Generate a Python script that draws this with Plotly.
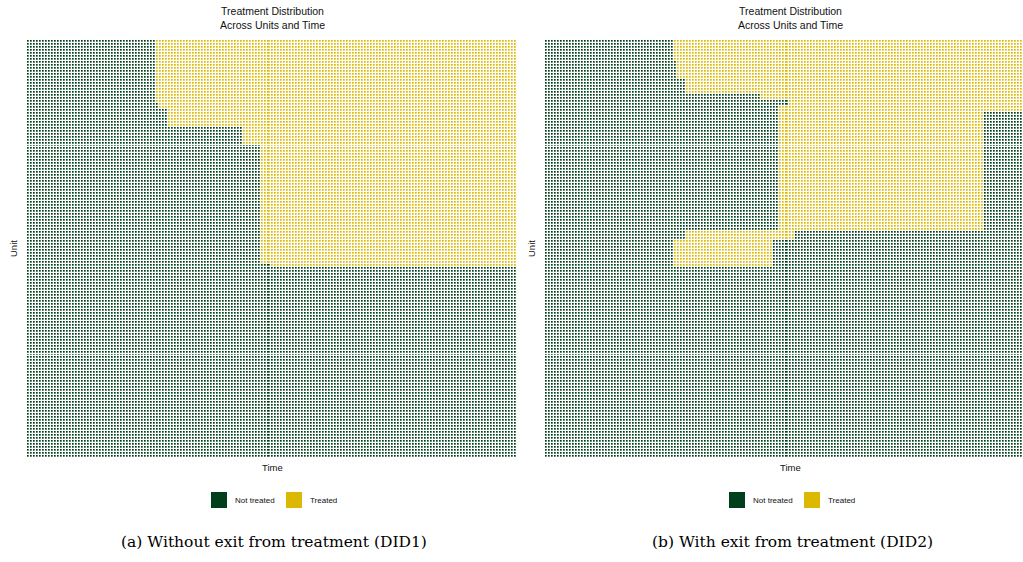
import numpy as np
import plotly.graph_objects as go

# Panel dimensions
N_UNITS = 140
N_PERIODS = 163

# DID1: staggered adoption, no exit (blocks of units, top to bottom)
did1_block_sizes = [21, 2, 6, 6, 40, 1]
did1_start = [43, 44, 47, 72, 78, 81]

# DID2: adoption with exit (end = last treated period, None = stays treated)
did2_block_sizes = [7, 6, 5, 2, 2, 2, 40, 3, 9]
did2_start = [43, 44, 47, 72, 81, 78, 78, 47, 43]
did2_end = [None, None, None, None, None, None, 145, 82, 75]

legend_labels = ["Not treated", "Treated"]
GREEN = "#003F1C"
YELLOW = "#DCB800"


def build_matrix(sizes, starts, ends=None):
    z = np.zeros((N_UNITS, N_PERIODS), dtype=int)
    row = 0
    for i, (n, s) in enumerate(zip(sizes, starts)):
        e = N_PERIODS - 1 if ends is None or ends[i] is None else ends[i]
        z[row:row + n, s:e + 1] = 1
        row += n
    return z


z1 = build_matrix(did1_block_sizes, did1_start)
z2 = build_matrix(did2_block_sizes, did2_start, did2_end)

W, H = 1023, 562
colorscale = [[0, GREEN], [0.5, GREEN], [0.5, YELLOW], [1, YELLOW]]

fig = go.Figure()
for z, xa, ya in [(z1, "x", "y"), (z2, "x2", "y2")]:
    fig.add_trace(go.Heatmap(
        z=z, x=np.arange(N_PERIODS), y=np.arange(N_UNITS),
        colorscale=colorscale, zmin=0, zmax=1, showscale=False,
        xgap=1.3, ygap=1.3, xaxis=xa, yaxis=ya, hoverinfo="skip"))

# pixel geometry of the two panels
ax_left = [27, 545]
panel_w = 490
top_px, bot_px = 40, 458
pitch = panel_w / N_PERIODS


def px(x):
    return x / W


def py(y):
    return 1 - y / H


axis_common = dict(showgrid=False, zeroline=False, showticklabels=False,
                   ticks="", showline=False)
fig.update_layout(
    xaxis=dict(domain=[px(27), px(27 + panel_w)], range=[-0.5, N_PERIODS - 0.5], **axis_common),
    yaxis=dict(domain=[py(bot_px), py(top_px)], range=[N_UNITS - 0.5, -0.5], **axis_common),
    xaxis2=dict(domain=[px(545), 1.0], range=[-0.5, -0.5 + (W - 545) / pitch], **axis_common),
    yaxis2=dict(domain=[py(bot_px), py(top_px)], range=[N_UNITS - 0.5, -0.5],
                anchor="x2", **axis_common),
)

annotations = []
shapes = []
captions = ["(a) Without exit from treatment (DID1)", "(b) With exit from treatment (DID2)"]
sans = "Liberation Sans, Arial, sans-serif"
for k, x0 in enumerate(ax_left):
    cx = x0 + panel_w / 2
    annotations.append(dict(x=px(cx), y=py(18), xref="paper", yref="paper",
                            text="Treatment Distribution<br>Across Units and Time",
                            showarrow=False, font=dict(family=sans, size=10.5, color="#111"),
                            xanchor="center", yanchor="middle"))
    annotations.append(dict(x=px(x0 - 13), y=py(249), xref="paper", yref="paper",
                            text="Unit", textangle=-90, showarrow=False,
                            font=dict(family=sans, size=9.5, color="#111"),
                            xanchor="center", yanchor="middle"))
    annotations.append(dict(x=px(cx), y=py(467), xref="paper", yref="paper",
                            text="Time", showarrow=False,
                            font=dict(family=sans, size=9.5, color="#111"),
                            xanchor="center", yanchor="middle"))
    # legend keys
    lx = x0 + 184
    for j, (lab, col, off, toff) in enumerate([(legend_labels[0], GREEN, 0, 22),
                                               (legend_labels[1], YELLOW, 75, 97)]):
        shapes.append(dict(type="rect", xref="paper", yref="paper",
                           x0=px(lx + off), x1=px(lx + off + 16),
                           y0=py(508), y1=py(492), fillcolor=col,
                           line=dict(width=0)))
        annotations.append(dict(x=px(lx + toff), y=py(500), xref="paper", yref="paper",
                                text=lab, showarrow=False,
                                font=dict(family=sans, size=8, color="#111"),
                                xanchor="left", yanchor="middle"))
    annotations.append(dict(x=px(cx + 2), y=py(542), xref="paper", yref="paper",
                            text=captions[k], showarrow=False,
                            font=dict(family="DejaVu Serif, serif", size=15.5, color="#000"),
                            xanchor="center", yanchor="middle"))

fig.update_layout(width=W, height=H, margin=dict(l=0, r=0, t=0, b=0),
                  paper_bgcolor="white", plot_bgcolor="white",
                  annotations=annotations, shapes=shapes, showlegend=False)

fig.write_html("out.html")
